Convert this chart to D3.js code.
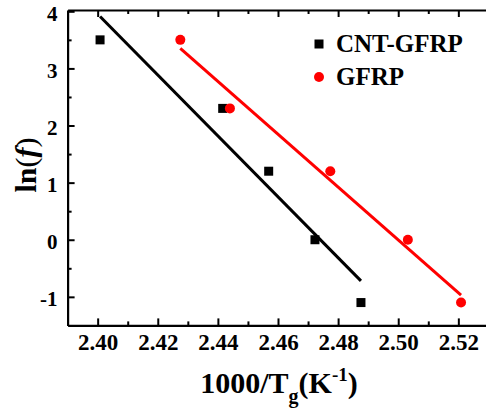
<!DOCTYPE html>
<html>
<head>
<meta charset="utf-8">
<script src="https://cdn.jsdelivr.net/npm/d3@7"></script>
<style>
  html, body { margin: 0; padding: 0; background: #fff; }
  svg { display: block; }
</style>
</head>
<body>
<svg id="chart" width="486" height="413"></svg>
<script>
// ---- data ----
const seriesNames = ["CNT-GFRP", "GFRP"];
const cntX = [2.4008, 2.4416, 2.4569, 2.4723, 2.4876];
const cntY = [3.5, 2.3, 1.2, 0.0, -1.1];
const gfrpX = [2.4275, 2.4440, 2.4774, 2.5032, 2.5209];
const gfrpY = [3.5, 2.3, 1.2, 0.0, -1.1];
// linear-fit line end points
const cntFitX = [2.4008, 2.4876];
const cntFitY = [3.91, -0.72];
const gfrpFitX = [2.4275, 2.5209];
const gfrpFitY = [3.35, -0.97];
// ticks
const xMajorTicks = [2.40, 2.42, 2.44, 2.46, 2.48, 2.50, 2.52];
const xMinorTicks = [2.41, 2.43, 2.45, 2.47, 2.49, 2.51];
const yMajorTicks = [-1, 0, 1, 2, 3, 4];
const yMinorTicks = [-0.5, 0.5, 1.5, 2.5, 3.5];

(function () {
const FONT = "'Liberation Serif', 'Times New Roman', Times, serif";
const svg = d3.select("#chart");
const mLeft = 67.6, mRight = 488.4, mTop = 10, mBottom = 325.4;
const x = d3.scaleLinear().domain([2.39, 2.53]).range([mLeft, mRight]);
const y = d3.scaleLinear().domain([-1.5, 4.023]).range([mBottom, mTop]);

// ---- axes ----
const gx = svg.append("g").attr("transform", `translate(0,${mBottom})`)
  .call(d3.axisBottom(x).tickValues(xMajorTicks).tickSizeInner(-7).tickSizeOuter(0)
    .tickPadding(8).tickFormat(d => d.toFixed(2)));
gx.append("g").call(d3.axisBottom(x).tickValues(xMinorTicks).tickSize(-4).tickFormat(""))
  .select(".domain").remove();

const gt = svg.append("g").attr("transform", `translate(0,${mTop})`)
  .call(d3.axisTop(x).tickValues(xMajorTicks).tickSizeInner(-7).tickSizeOuter(0).tickFormat(""));
gt.append("g").call(d3.axisTop(x).tickValues(xMinorTicks).tickSize(-4).tickFormat(""))
  .select(".domain").remove();

const gy = svg.append("g").attr("transform", `translate(${mLeft},0)`)
  .call(d3.axisLeft(y).tickValues(yMajorTicks).tickSizeInner(-7).tickSizeOuter(0)
    .tickPadding(10).tickFormat(d => String(d)));
gy.append("g").call(d3.axisLeft(y).tickValues(yMinorTicks).tickSize(-4).tickFormat(""))
  .select(".domain").remove();

svg.selectAll(".domain").attr("stroke", "#000").attr("stroke-width", 2.2);
svg.selectAll(".tick line").attr("stroke", "#000").attr("stroke-width", 2);
[gx, gy].forEach(g => g.attr("font-family", FONT).attr("font-weight", "bold"));
gx.selectAll(".tick text").attr("font-size", 23).attr("font-family", FONT)
  .attr("font-weight", "bold").attr("fill", "#000").attr("dy", "0.72em");
gy.selectAll(".tick text").attr("font-size", 21).attr("font-family", FONT)
  .attr("font-weight", "bold").attr("fill", "#000").attr("dy", "0.42em");

// ---- fit lines ----
const line = d3.line().x(d => x(d[0])).y(d => y(d[1]));
svg.append("path").datum(d3.zip(cntFitX, cntFitY)).attr("d", line)
  .attr("fill", "none").attr("stroke", "#000").attr("stroke-width", 3);
svg.append("path").datum(d3.zip(gfrpFitX, gfrpFitY)).attr("d", line)
  .attr("fill", "none").attr("stroke", "#ff0000").attr("stroke-width", 3);

// ---- points ----
const sq = 9;
svg.append("g").selectAll("rect").data(d3.zip(cntX, cntY)).join("rect")
  .attr("x", d => x(d[0]) - sq / 2).attr("y", d => y(d[1]) - sq / 2)
  .attr("width", sq).attr("height", sq).attr("fill", "#000");
svg.append("g").selectAll("circle").data(d3.zip(gfrpX, gfrpY)).join("circle")
  .attr("cx", d => x(d[0])).attr("cy", d => y(d[1])).attr("r", 5)
  .attr("fill", "#ff0000");

// ---- legend ----
const lg = svg.append("g").attr("font-family", FONT).attr("font-weight", "bold");
lg.append("rect").attr("x", 319 - 4.5).attr("y", 44 - 4.5).attr("width", 9).attr("height", 9).attr("fill", "#000");
lg.append("text").attr("x", 336).attr("y", 52).attr("font-size", 25).text(seriesNames[0]);
lg.append("circle").attr("cx", 319).attr("cy", 77).attr("r", 5).attr("fill", "#ff0000");
lg.append("text").attr("x", 336).attr("y", 85).attr("font-size", 25).text(seriesNames[1]);

// ---- axis titles ----
const xt = svg.append("text").attr("x", 279).attr("y", 393).attr("text-anchor", "middle")
  .attr("font-family", FONT).attr("font-weight", "bold").attr("font-size", 30);
xt.append("tspan").text("1000/T");
xt.append("tspan").attr("font-size", 20).attr("dy", 10).text("g");
xt.append("tspan").attr("dy", -10).text("(K");
xt.append("tspan").attr("font-size", 19).attr("dy", -12).text("-1");
xt.append("tspan").attr("dy", 12).text(")");

const yt = svg.append("text").attr("transform", "translate(36,165) rotate(-90)")
  .attr("text-anchor", "middle").attr("font-family", FONT).attr("font-weight", "bold").attr("font-size", 30);
yt.append("tspan").text("ln");
yt.append("tspan").attr("font-weight", "normal").text("(");
yt.append("tspan").attr("font-style", "italic").text("f");
yt.append("tspan").attr("font-weight", "normal").text(")");
})();
</script>
</body>
</html>
